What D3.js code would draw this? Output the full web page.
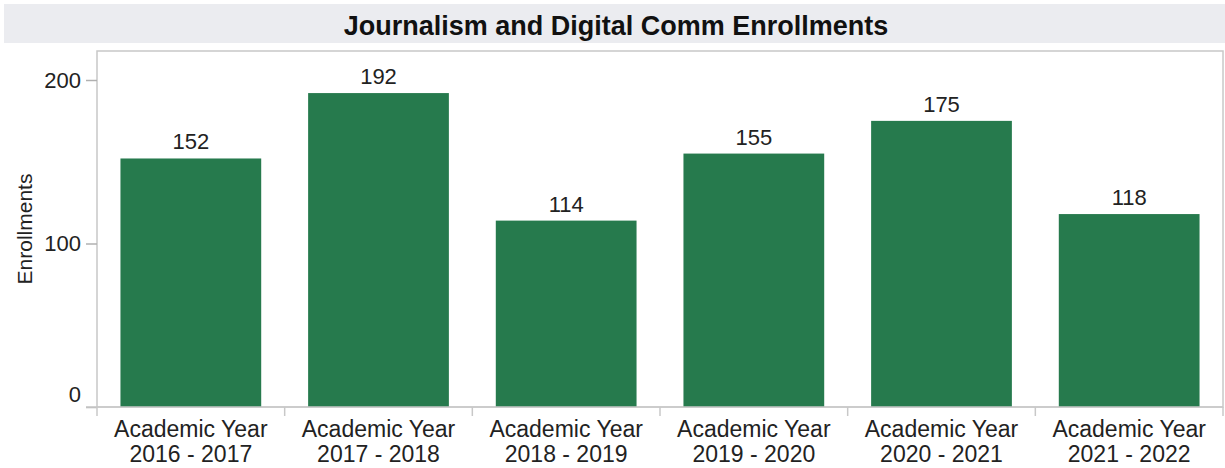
<!DOCTYPE html>
<html>
<head>
<meta charset="utf-8">
<script src="https://cdn.jsdelivr.net/npm/d3@7"></script>
<style>
  body { margin: 0; background: #fff; font-family: "Liberation Sans", Arial, sans-serif; }
</style>
</head>
<body>
<div id="chart"></div>
<script>
// data
const years = ["2016 - 2017", "2017 - 2018", "2018 - 2019", "2019 - 2020", "2020 - 2021", "2021 - 2022"]
const enrollments = [152, 192, 114, 155, 175, 118]
const yTicks = [0, 100, 200]
const title = "Journalism and Digital Comm Enrollments"

const width = 1225, height = 468
const config = { marginLeft: 97, marginRight: 2, marginTop: 51, marginBottom: 61 }

const svg = d3.select("#chart").append("svg")
    .attr("width", width)
    .attr("height", height)

// title band
svg.append("rect")
    .attr("x", 4).attr("y", 4)
    .attr("width", width - 4).attr("height", 39)
    .attr("fill", "#ebecf0")
svg.append("text")
    .attr("x", 616).attr("y", 35)
    .attr("text-anchor", "middle")
    .attr("font-size", 27).attr("font-weight", "bold")
    .attr("fill", "#111")
    .text(title)

const x = d3.scaleBand()
    .domain(years)
    .range([config.marginLeft, width - config.marginRight])
    .paddingInner(0.25)
    .paddingOuter(0.125)

const y = d3.scaleLinear()
    .domain([0, 200])
    .range([height - config.marginBottom, 80])

// plot frame
svg.append("rect")
    .attr("x", config.marginLeft).attr("y", config.marginTop)
    .attr("width", width - config.marginLeft - config.marginRight)
    .attr("height", y(0) - config.marginTop)
    .attr("fill", "none")
    .attr("stroke", "#c8c8c8")
    .attr("stroke-width", 1.5)

// bars
svg.selectAll(".bar")
    .data(enrollments)
    .join("rect")
    .attr("class", "bar")
    .attr("x", (d, i) => x(years[i]))
    .attr("width", x.bandwidth())
    .attr("y", d => y(d))
    .attr("height", d => y(0) - y(d))
    .attr("fill", "#267a4d")

svg.selectAll(".val")
    .data(enrollments)
    .join("text")
    .attr("class", "val")
    .attr("x", (d, i) => x(years[i]) + x.bandwidth() / 2)
    .attr("y", d => y(d) - 9)
    .attr("text-anchor", "middle")
    .attr("font-size", 22)
    .attr("fill", "#222")
    .text(d => d)

// y axis
const yAxis = svg.append("g")
    .attr("transform", `translate(${config.marginLeft},0)`)
    .call(d3.axisLeft(y).tickValues(yTicks).tickSize(11).tickPadding(5))
yAxis.select(".domain").remove()
yAxis.selectAll("line").attr("stroke", "#b0b0b0").attr("stroke-width", 1.5)
yAxis.selectAll("text")
    .attr("font-size", 22)
    .attr("font-family", "Liberation Sans, Arial, sans-serif")
    .attr("fill", "#222")
    .attr("dy", d => d === 0 ? "-6px" : "0.32em")

svg.append("text")
    .attr("transform", `translate(32,${(config.marginTop + y(0)) / 2}) rotate(-90)`)
    .attr("text-anchor", "middle")
    .attr("font-size", 21)
    .attr("fill", "#222")
    .text("Enrollments")

// x axis
const xAxisG = svg.append("g")
svg.append("line")
    .attr("x1", 86).attr("x2", width - config.marginRight)
    .attr("y1", y(0)).attr("y2", y(0))
    .attr("stroke", "#c8c8c8").attr("stroke-width", 1.5)

const step = x.step()
const dividers = years.map((d, i) => x(d) - x.paddingInner() * step / 2).concat([width - config.marginRight])
dividers[0] = config.marginLeft
xAxisG.selectAll("line")
    .data(dividers)
    .join("line")
    .attr("x1", d => d).attr("x2", d => d)
    .attr("y1", y(0)).attr("y2", y(0) + 9)
    .attr("stroke", "#c8c8c8").attr("stroke-width", 1.5)

const xl = xAxisG.selectAll(".xl")
    .data(years)
    .join("text")
    .attr("class", "xl")
    .attr("x", d => x(d) + x.bandwidth() / 2)
    .attr("text-anchor", "middle")
    .attr("font-size", 23)
    .attr("fill", "#222")
xl.append("tspan").attr("x", d => x(d) + x.bandwidth() / 2).attr("y", 437).text("Academic Year")
xl.append("tspan").attr("x", d => x(d) + x.bandwidth() / 2).attr("y", 462).text(d => d)
</script>
</body>
</html>
